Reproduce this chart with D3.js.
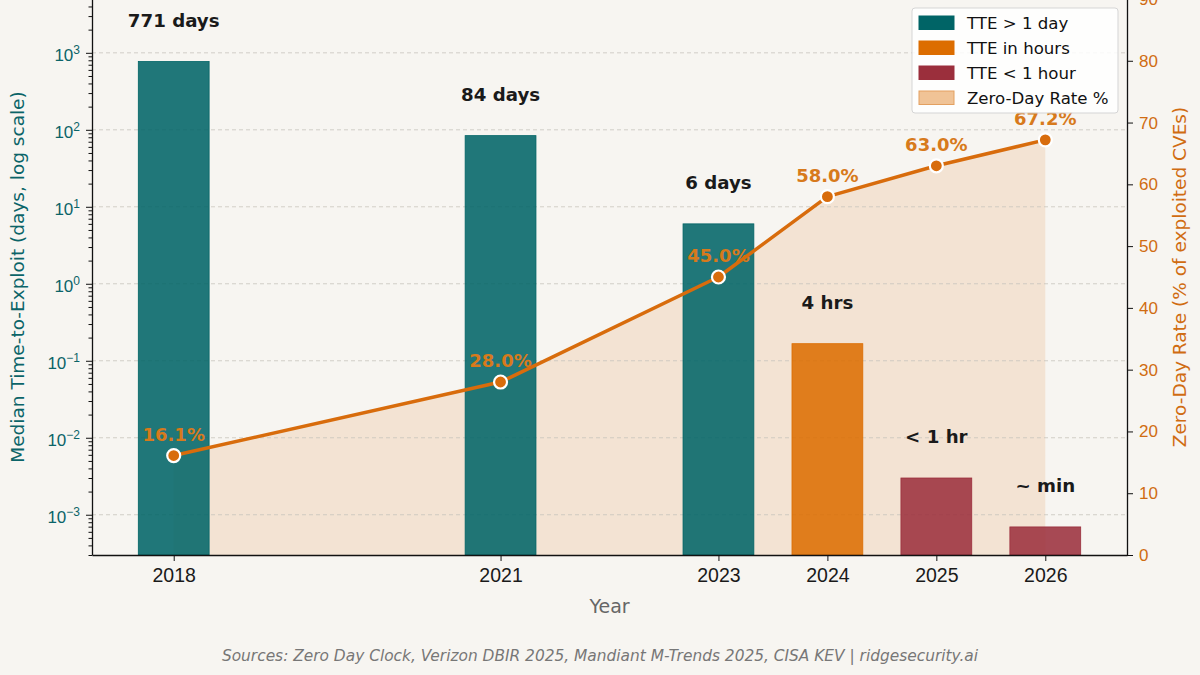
<!DOCTYPE html>
<html>
<head>
<meta charset="utf-8">
<script src="https://cdn.jsdelivr.net/npm/d3@7"></script>
<style>
  html, body { margin: 0; padding: 0; background: #f7f5f1; }
  svg { display: block; font-family: "DejaVu Sans", sans-serif; }
</style>
</head>
<body>
<svg id="chart" width="1200" height="675"></svg>
<script>
// ---- data ----
var years = [2018, 2021, 2023, 2024, 2025, 2026];
var tteDays = [771, 84, 6, 4 / 24, 0.003, 1 / 1440];
var tteLabels = ["771 days", "84 days", "6 days", "4 hrs", "< 1 hr", "~ min"];
var tteGroup = ["day", "day", "day", "hours", "minutes", "minutes"];
var zeroDayRate = [16.1, 28.0, 45.0, 58.0, 63.0, 67.2];
var rateTicks = [0, 10, 20, 30, 40, 50, 60, 70, 80, 90];
var decadeTicks = [1e-3, 1e-2, 1e-1, 1e0, 1e1, 1e2, 1e3];
var legendItems = ["TTE > 1 day", "TTE in hours", "TTE < 1 hour", "Zero-Day Rate %"];

(function () {
var colors = { day: "#006466", hours: "#dc6d00", minutes: "#9b2f3c" };
var lineColor = "#d86c0c";
var tealText = "#0b6468";
var orangeText = "#d06c12";

var svg = d3.select("#chart");
var pLeft = 92, pRight = 1127, pTop = -1, pBottom = 555;

var x = d3.scaleLinear().domain([2017.25, 2026.75]).range([pLeft, pRight]);
var y = d3.scaleLog().domain([0.0003, 5000]).range([pBottom, pTop]);
var y2 = d3.scaleLinear().domain([0, 90]).range([pBottom, pTop]);
var barW = x(2018.65) - x(2018);

var rows = years.map(function (yr, i) {
  return { year: yr, days: tteDays[i], label: tteLabels[i], group: tteGroup[i], rate: zeroDayRate[i] };
});

// area under zero-day line
var area = d3.area()
  .x(function (d) { return x(d.year); })
  .y0(y2(0))
  .y1(function (d) { return y2(d.rate); });
svg.append("path").datum(rows)
  .attr("d", area)
  .attr("fill", lineColor)
  .attr("fill-opacity", 0.13);

// grid
svg.append("g").selectAll("line").data(decadeTicks).enter().append("line")
  .attr("x1", pLeft).attr("x2", pRight)
  .attr("y1", function (d) { return y(d); }).attr("y2", function (d) { return y(d); })
  .attr("stroke", "#c8c4bd").attr("stroke-width", 0.8)
  .attr("stroke-dasharray", "4,3");

// bars
svg.append("g").selectAll("rect").data(rows).enter().append("rect")
  .attr("x", function (d) { return x(d.year) - barW / 2; })
  .attr("width", barW)
  .attr("y", function (d) { return y(d.days); })
  .attr("height", function (d) { return pBottom - y(d.days); })
  .attr("fill", function (d) { return colors[d.group]; })
  .attr("fill-opacity", 0.87)
  .attr("stroke", function (d) { return colors[d.group]; })
  .attr("stroke-width", 0.8);

// percent labels
svg.append("g").selectAll("text").data(rows).enter().append("text")
  .attr("x", function (d) { return x(d.year); })
  .attr("y", function (d) { return y2(d.rate) - 15; })
  .attr("text-anchor", "middle")
  .attr("font-size", 18).attr("font-weight", "bold")
  .attr("fill", "#d77a1c")
  .text(function (d) { return d.rate.toFixed(1) + "%"; });

// line + markers
var line = d3.line()
  .x(function (d) { return x(d.year); })
  .y(function (d) { return y2(d.rate); });
svg.append("path").datum(rows)
  .attr("d", line)
  .attr("fill", "none")
  .attr("stroke", lineColor)
  .attr("stroke-width", 3.5)
  .attr("stroke-linejoin", "round");
svg.append("g").selectAll("circle").data(rows).enter().append("circle")
  .attr("cx", function (d) { return x(d.year); })
  .attr("cy", function (d) { return y2(d.rate); })
  .attr("r", 6.5)
  .attr("fill", lineColor)
  .attr("stroke", "white").attr("stroke-width", 2.2);

// bar labels
svg.append("g").selectAll("text").data(rows).enter().append("text")
  .attr("x", function (d) { return x(d.year); })
  .attr("y", function (d) { return y(d.days) - 35; })
  .attr("text-anchor", "middle")
  .attr("font-size", 18.2).attr("font-weight", "bold")
  .attr("fill", "#1a1a1a")
  .text(function (d) { return d.label; });

// ---- axes ----
var supers = { "-3": "\u22123", "-2": "\u22122", "-1": "\u22121", "0": "0", "1": "1", "2": "2", "3": "3" };
var yAxis = svg.append("g").attr("transform", "translate(" + pLeft + ",0)")
  .call(d3.axisLeft(y).tickValues(decadeTicks).tickSize(6).tickSizeOuter(0).tickPadding(6).tickFormat(function () { return ""; }));
yAxis.selectAll(".tick text").each(function (d) {
  var t = d3.select(this);
  var e = Math.round(Math.log10(d));
  t.attr("fill", tealText).attr("font-size", 17).attr("dy", "0.45em");
  t.append("tspan").text("10");
  t.append("tspan").attr("font-size", 12).attr("dy", "-0.55em").text(supers[String(e)]);
});
var minor = [];
decadeTicks.concat([1e-4]).forEach(function (dec) {
  for (var k = 2; k <= 9; k++) {
    var v = dec * k;
    if (v > 0.0003 && v < 5000) minor.push(v);
  }
});
svg.append("g").attr("transform", "translate(" + pLeft + ",0)")
  .call(d3.axisLeft(y).tickValues(minor).tickSize(3.5).tickFormat(""))
  .call(function (g) { g.select(".domain").remove(); });

var y2Axis = svg.append("g").attr("transform", "translate(" + pRight + ",0)")
  .call(d3.axisRight(y2).tickValues(rateTicks).tickSize(6).tickSizeOuter(0).tickPadding(6));
y2Axis.selectAll(".tick text").attr("fill", orangeText).attr("font-size", 17);

var xAxis = svg.append("g").attr("transform", "translate(0," + pBottom + ")")
  .call(d3.axisBottom(x).tickValues(years).tickSize(6).tickSizeOuter(0).tickPadding(7).tickFormat(d3.format("d")));
xAxis.selectAll(".tick text").attr("fill", "#1a1a1a").attr("font-size", 19.5);

svg.selectAll(".domain").attr("stroke", "#111").attr("stroke-width", 1.3);
svg.selectAll(".tick line").attr("stroke", "#111");

// axis titles
svg.append("text")
  .attr("transform", "translate(24," + ((pTop + pBottom) / 2) + ") rotate(-90)")
  .attr("text-anchor", "middle")
  .attr("font-size", 18.5).attr("fill", tealText)
  .text("Median Time-to-Exploit (days, log scale)");
svg.append("text")
  .attr("transform", "translate(1186," + ((pTop + pBottom) / 2) + ") rotate(-90)")
  .attr("text-anchor", "middle")
  .attr("font-size", 18.5).attr("fill", orangeText)
  .text("Zero-Day Rate (% of exploited CVEs)");
svg.append("text")
  .attr("x", (pLeft + pRight) / 2).attr("y", 613)
  .attr("text-anchor", "middle")
  .attr("font-size", 19).attr("fill", "#666")
  .text("Year");
svg.append("text")
  .attr("x", 600).attr("y", 661)
  .attr("text-anchor", "middle")
  .attr("font-size", 15.4).attr("font-style", "italic").attr("fill", "#777")
  .text("Sources: Zero Day Clock, Verizon DBIR 2025, Mandiant M-Trends 2025, CISA KEV | ridgesecurity.ai");

// ---- legend ----
var legendFill = [colors.day, colors.hours, colors.minutes, "#f0c396"];
var legendStroke = [colors.day, colors.hours, colors.minutes, "#e3a060"];
var lg = svg.append("g").attr("transform", "translate(912,8)");
lg.append("rect")
  .attr("width", 206).attr("height", 105).attr("rx", 3)
  .attr("fill", "white").attr("fill-opacity", 0.85)
  .attr("stroke", "#d5d5d5");
var item = lg.selectAll("g.item").data(legendItems).enter().append("g")
  .attr("class", "item")
  .attr("transform", function (d, i) { return "translate(7," + (8 + i * 25) + ")"; });
item.append("rect")
  .attr("width", 35).attr("height", 13.5)
  .attr("fill", function (d, i) { return legendFill[i]; })
  .attr("stroke", function (d, i) { return legendStroke[i]; });
item.append("text")
  .attr("x", 48).attr("y", 13)
  .attr("font-size", 16.6).attr("fill", "#111")
  .text(function (d) { return d; });
})();
</script>
</body>
</html>
